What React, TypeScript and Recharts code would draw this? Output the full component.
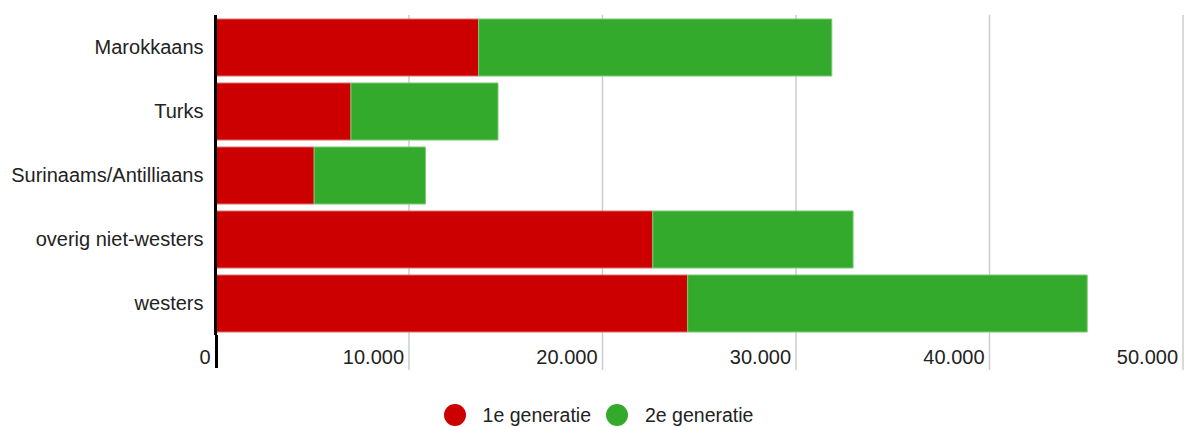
import { BarChart, Bar, XAxis, YAxis, CartesianGrid, Legend } from "recharts";

const categories = ["Marokkaans", "Turks", "Surinaams/Antilliaans", "overig niet-westers", "westers"];
const eersteGeneratie = [13600, 7000, 5100, 22600, 24400];
const tweedeGeneratie = [18250, 7600, 5750, 10350, 20650];
const xTicks = [0, 10000, 20000, 30000, 40000, 50000];
const seriesNames = ["1e generatie", "2e generatie"];

const data = categories.map((name, i) => ({
  name,
  gen1: eersteGeneratie[i],
  gen2: tweedeGeneratie[i],
}));

const font = "Arial, 'Liberation Sans', sans-serif";
const textColor = "#222";
const fontSize = 20;

const fmt = (v: number) => v.toLocaleString("nl-NL").replace(/,/g, ".");

function XTick(props: any) {
  const { x, y, payload } = props;
  const isZero = payload.value === 0;
  return (
    <g>
      <line
        x1={isZero ? x + 1 : x}
        x2={isZero ? x + 1 : x}
        y1={y}
        y2={isZero ? 368 : 370}
        stroke={isZero ? "#000" : "#ccc"}
        strokeWidth={isZero ? 3 : 1.5}
      />
      <text x={x - 5} y={y + 29} textAnchor="end" fill={textColor} fontSize={fontSize} fontFamily={font}>
        {fmt(payload.value)}
      </text>
    </g>
  );
}

function LegendContent(props: any) {
  const { payload } = props;
  return (
    <div
      style={{
        display: "flex",
        justifyContent: "center",
        alignItems: "center",
        height: 40,
        paddingTop: 16,
        paddingLeft: 14,
        boxSizing: "border-box",
        fontFamily: font,
        fontSize: 19.5,
        color: textColor,
      }}
    >
      {(payload || []).map((p: any, i: number) => (
        <div key={i} style={{ display: "flex", alignItems: "center", marginRight: i === 0 ? 15 : 0, height: 24 }}>
          <span
            style={{
              display: "inline-block",
              width: 22,
              height: 22,
              borderRadius: "50%",
              background: p.color,
              marginRight: 17,
            }}
          />
          <span>{p.value}</span>
        </div>
      ))}
    </div>
  );
}

export default function App() {
  return (
    <div style={{ position: "absolute", left: 0, top: 0 }}>
      <BarChart
        width={1187}
        height={427}
        layout="vertical"
        data={data}
        margin={{ top: 15, right: 4, bottom: 0, left: 0 }}
      >
        <CartesianGrid horizontal={false} stroke="#ccc" strokeWidth={1.5} />
        <XAxis
          type="number"
          domain={[0, 50000]}
          ticks={xTicks}
          axisLine={false}
          tickLine={false}
          tickSize={0}
          tickMargin={0}
          height={52}
          interval={0}
          tick={<XTick />}
        />
        <YAxis
          type="category"
          dataKey="name"
          width={215.5}
          axisLine={{ stroke: "#000", strokeWidth: 3 }}
          tickLine={false}
          tickSize={0}
          tickMargin={12}
          tick={{ fill: textColor, fontSize, fontFamily: font }}
        />
        <Legend verticalAlign="bottom" content={<LegendContent />} />
        <Bar
          dataKey="gen1"
          name={seriesNames[0]}
          stackId="a"
          fill="#cc0000"
          stroke="#e06a6a"
          strokeWidth={1}
          barSize={57}
          isAnimationActive={false}
        />
        <Bar
          dataKey="gen2"
          name={seriesNames[1]}
          stackId="a"
          fill="#33aa2b"
          stroke="#7acb74"
          strokeWidth={1}
          barSize={57}
          isAnimationActive={false}
        />
      </BarChart>
    </div>
  );
}
